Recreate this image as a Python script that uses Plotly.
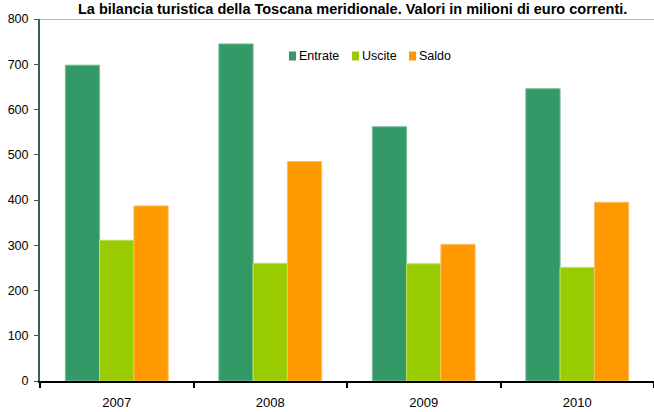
import plotly.graph_objects as go

# Bilancia turistica della Toscana meridionale (milioni di euro correnti)
anni = ["2007", "2008", "2009", "2010"]
entrate = [698, 745, 562, 646]
uscite = [311, 260, 259, 251]
saldo = [387, 485, 302, 395]

serie = ["Entrate", "Uscite", "Saldo"]
colori = ["#339966", "#99CC00", "#FF9900"]
bordi = ["#7fbf9c", "#bfe05c", "#ffbf66"]

titolo = "La bilancia turistica della Toscana meridionale. Valori in milioni di euro correnti."
y_ticks = [0, 100, 200, 300, 400, 500, 600, 700, 800]

FONT = "Liberation Sans, Arial, sans-serif"

fig = go.Figure()
for nome, valori, col, bordo in zip(serie, [entrate, uscite, saldo], colori, bordi):
    fig.add_trace(go.Bar(
        name=nome, x=anni, y=valori,
        marker=dict(color=col, line=dict(color=bordo, width=1)),
        showlegend=False,
    ))

W, H = 654, 412
L, R, T, B = 40, 0, 19, 31

fig.update_layout(
    width=W, height=H,
    margin=dict(l=L, r=R, t=T, b=B),
    paper_bgcolor="white", plot_bgcolor="white",
    barmode="group", bargap=0.33, bargroupgap=0,
    font=dict(family=FONT, size=12, color="#000000"),
    xaxis=dict(
        type="category", showgrid=False, zeroline=False,
        showline=True, linecolor="#000000", linewidth=1.5,
        ticks="outside", tickson="boundaries", ticklen=5, tickcolor="#000000",
        tickwidth=1.5, tickfont=dict(size=13), ticklabelstandoff=9,
    ),
    yaxis=dict(
        range=[0, 800], tickvals=y_ticks, showgrid=False, zeroline=False,
        showline=True, linecolor="#3d5e4d", linewidth=2,
        ticks="outside", ticklen=4, tickcolor="#3d5e4d", tickwidth=1,
        tickfont=dict(size=12.5), ticklabelstandoff=3,
    ),
)

# top border line of the plot area
fig.add_shape(type="line", xref="paper", yref="y", x0=0, x1=1, y0=800, y1=800,
              line=dict(color="#93ccac", width=2))

ph = H - T - B
pw = W - L - R

# title above the plot area
fig.add_annotation(text="<b>" + titolo + "</b>", xref="paper", yref="paper",
                   x=(352 - L) / pw, y=1 + (T - 9) / ph,
                   xanchor="center", yanchor="middle", showarrow=False,
                   font=dict(family=FONT, size=14.5, color="#000000"))

# legend: small squares followed by labels
leg_x = [289, 352, 409]
leg_y = 56
for nome, col, lx in zip(serie, colori, leg_x):
    fig.add_shape(type="rect", xref="paper", yref="paper",
                  x0=(lx - L) / pw, x1=(lx + 7 - L) / pw,
                  y0=1 - (leg_y + 4.5 - T) / ph, y1=1 - (leg_y - 4.5 - T) / ph,
                  fillcolor=col, line=dict(width=0))
    fig.add_annotation(text=nome, xref="paper", yref="paper",
                       x=(lx + 8 - L) / pw, y=1 - (leg_y - T) / ph,
                       xanchor="left", yanchor="middle", showarrow=False,
                       font=dict(family=FONT, size=12.5, color="#000000"))

fig.write_html("out.html")
